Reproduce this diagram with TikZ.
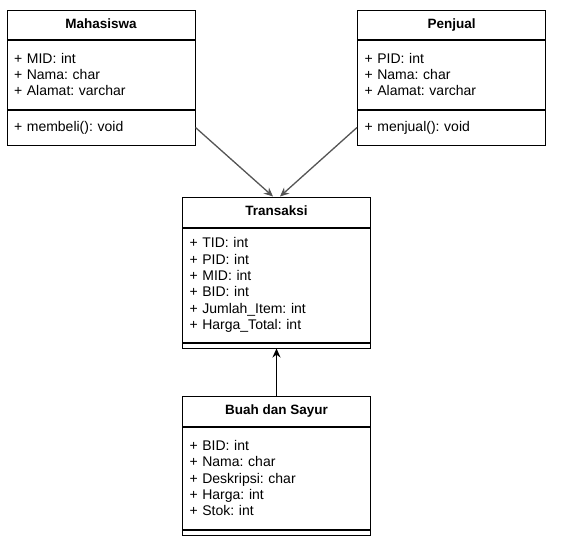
\documentclass[tikz,border=0pt]{standalone}
\usepackage{fontspec}
\setmainfont{Liberation Sans}
\usetikzlibrary{positioning, arrows.meta}
\definecolor{relasigray}{RGB}{85,85,85}
\frenchspacing

\begin{document}
\begin{tikzpicture}[x = 1pt, y = -1pt, line width = 1pt,
		classhead/.style = {draw, minimum width = 188pt, inner sep = 0pt, text height = 10pt, text depth = 3pt, font = \fontsize{13.5}{16.3}\selectfont\bfseries},
		compart/.style = {draw, minimum width = 188pt, inner xsep = 7pt, inner ysep = 0pt, text width = 174pt, align = left, font = \fontsize{14}{16.3}\selectfont},
		relasi/.style = {draw = relasigray, line width = 1.3pt, -{Stealth[length = 9pt, width = 8pt]}}]
			\useasboundingbox (0, 0) rectangle (564, 549);
			\node[classhead, minimum height = 29pt] (mhs) at (101, 24.5) {Mahasiswa};
				\node[compart, minimum height = 69pt, below = 0pt of mhs] (mhsA) {+ MID: int\\+ Nama: char\\+ Alamat: varchar};
				\node[compart, minimum height = 35pt, below = 0pt of mhsA] (mhsM) {+ membeli(): void};
			\node[classhead, minimum height = 29pt] (pjl) at (451.5, 24.5) {Penjual};
				\node[compart, minimum height = 69pt, below = 0pt of pjl] (pjlA) {+ PID: int\\+ Nama: char\\+ Alamat: varchar};
				\node[compart, minimum height = 35pt, below = 0pt of pjlA] (pjlM) {+ menjual(): void};
			\node[classhead, minimum height = 30pt] (trs) at (276.5, 212) {Transaksi};
				\node[compart, minimum height = 114pt, below = 0pt of trs] (trsA) {+ TID: int\\+ PID: int\\+ MID: int\\+ BID: int\\+ Jumlah\_Item: int\\+ Harga\_Total: int};
				\node[compart, minimum height = 5pt, below = 0pt of trsA] (trsM) {};
			\node[classhead, minimum height = 30pt] (bhs) at (276.5, 411) {Buah dan Sayur};
				\node[compart, minimum height = 102pt, below = 0pt of bhs] (bhsA) {+ BID: int\\+ Nama: char\\+ Deskripsi: char\\+ Harga: int\\+ Stok: int};
				\node[compart, minimum height = 5pt, below = 0pt of bhsA] (bhsM) {};
			\draw[relasi] (mhsM.east) -- ([xshift = -3.5pt]trs.north);
			\draw[relasi] (pjlM.west) -- ([xshift = 3.5pt]trs.north);
			\draw[line width = 1.3pt, -{Stealth[length = 9pt, width = 8pt]}] (bhs.north) -- (trsM.south);
		\end{tikzpicture}
\end{document}
